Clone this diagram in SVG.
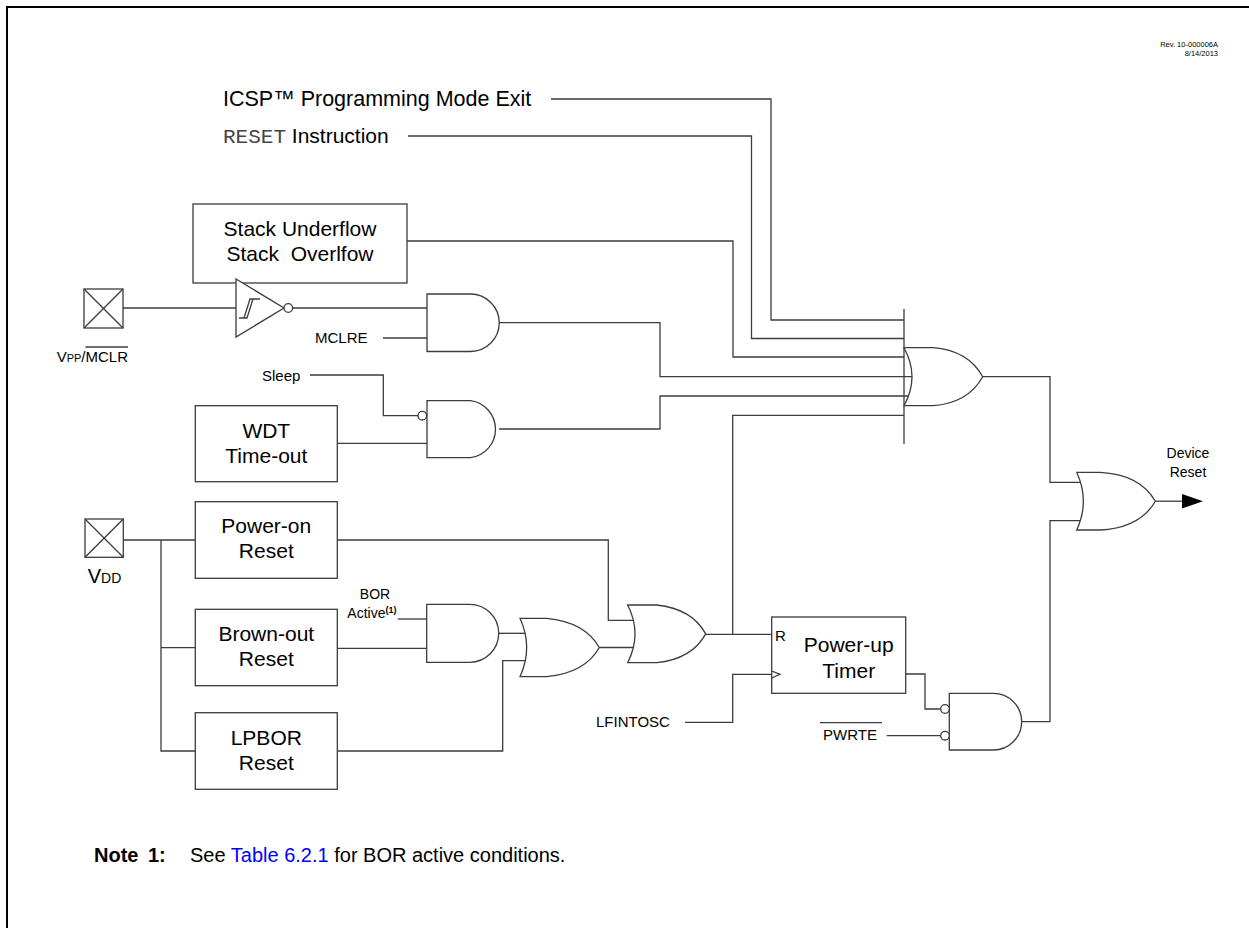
<svg xmlns="http://www.w3.org/2000/svg" width="1249" height="928" viewBox="0 0 1249 928">
<style>
.w{fill:none;stroke:#3c3c3c;stroke-width:1.3}
.g{fill:#fff;stroke:#3c3c3c;stroke-width:1.3}
.t{font-family:"Liberation Sans",Arial,sans-serif;fill:#000}
.b{font-size:21px;text-anchor:middle}
.s{font-size:15px}
.m{font-family:"Liberation Mono","Courier New",monospace;fill:#444}
</style>
<rect width="1249" height="928" fill="#fff"/>
<path d="M7,928 V7 H1249" fill="none" stroke="#000" stroke-width="2"/>
<g id="rev" class="t" font-size="7.5" text-anchor="end"><text x="1218" y="47">Rev. 10-000006A</text><text x="1218" y="56">8/14/2013</text></g>

<g id="connectors">
<path class="w" d="M551,99 H771 V320 H904"/>
<path class="w" d="M408,136 H751.5 V338.5 H904"/>
<path class="w" d="M407,241 H733 V357 H904"/>
<path class="w" d="M123,308 H236"/>
<path class="w" d="M292.6,308 H427"/>
<path class="w" d="M383,338 H427"/>
<path class="w" d="M499,322.7 H660 V376.7 H912"/>
<path class="w" d="M310,375 H383.3 V415.7 H418"/>
<path class="w" d="M337.3,443.3 H427"/>
<path class="w" d="M499,429 H660 V396 H908.4"/>
<path class="w" d="M732.7,634.3 V415.3 H904"/>
<path class="w" d="M982.7,376.7 H1050 V482.3 H1080.5"/>
<path class="w" d="M1021.7,721.7 H1050 V520.7 H1080.3"/>
<path class="w" d="M1155.3,501.2 H1184"/>
<path class="w" d="M123.3,540 H195.3 M161,540 V751 H195.3 M161,647.7 H195.3"/>
<path class="w" d="M337.3,540 H608.3 V620.3 H633.4"/>
<path class="w" d="M397.7,619 H426.7"/>
<path class="w" d="M337.3,648.3 H426.7"/>
<path class="w" d="M498.7,633.3 H525.1"/>
<path class="w" d="M337.3,751 H502.7 V660.7 H525.3"/>
<path class="w" d="M599.3,647.5 H633.4"/>
<path class="w" d="M705.7,634.3 H771.7"/>
<path class="w" d="M685,722.3 H732.7 V674.3 H771.7"/>
<path class="w" d="M905.7,674 H925 V709 H940.7"/>
<path class="w" d="M886.7,735.7 H940.7"/>
<polygon points="1182,494 1203,501.2 1182,508.4" fill="#000"/>
</g>

<g id="icsp" class="t"><text x="223" y="106" font-size="21.5">ICSP™ Programming Mode Exit</text></g>
<g id="reset-instr"><text x="223" y="143" font-size="21"><tspan class="m">RESET</tspan><tspan class="t" font-family="Liberation Sans,Arial,sans-serif"> Instruction</tspan></text></g>

<g id="stack">
<rect class="g" x="193" y="204" width="214" height="79"/>
<text class="t b" x="300" y="236">Stack Underflow</text>
<text class="t b" x="300" y="261" xml:space="preserve">Stack  Overlfow</text>
</g>

<g id="mclr-pin">
<rect class="g" x="84" y="289" width="39" height="39"/>
<path class="w" d="M84,289 L123,328 M123,289 L84,328"/>
<text class="t" x="128" y="362" font-size="15" text-anchor="end">V<tspan font-size="11">PP</tspan>/MCLR</text>
<path class="w" d="M85.5,347 H128"/>
</g>

<g id="schmitt">
<path class="g" d="M236,279 L284,308 L236,337 Z"/>
<circle class="g" cx="288.3" cy="308" r="4.3"/>
<path class="w" stroke-width="1" d="M239,318 H247 L253,299 M244,318 L250,299 H260"/>
</g>

<g id="and-mclr">
<path class="g" d="M427,294 H470.5 A28.75,28.75 0 0 1 470.5,351.5 H427 Z"/>
<text class="t s" x="315" y="343">MCLRE</text>
</g>

<g id="and-wdt">
<path class="g" d="M427,400.7 H470.5 A28.75,28.75 0 0 1 470.5,457.7 H427 Z"/>
<circle class="g" cx="422.3" cy="415.7" r="4.3"/>
<text class="t s" x="262" y="381">Sleep</text>
</g>

<g id="wdt">
<rect class="g" x="195.3" y="405.7" width="142" height="76"/>
<text class="t b" x="266.3" y="438">WDT</text>
<text class="t b" x="266.3" y="463">Time-out</text>
</g>

<g id="or-main">
<path class="w" d="M904,309 V444"/>
<path class="g" d="M904,347.7 Q920,376.7 904,405.7 H933 Q968,403 982.7,376.7 Q968,350.4 933,347.7 Z"/>
</g>

<g id="or-device">
<path class="g" d="M1076.7,472.3 Q1090,501.2 1076.7,530 H1100 Q1140,528 1155.3,501.2 Q1140,474.3 1100,472.3 Z"/>
<text class="t" x="1188" y="458" font-size="14" text-anchor="middle">Device</text>
<text class="t" x="1188" y="477" font-size="14" text-anchor="middle">Reset</text>
</g>

<g id="vdd-pin">
<rect class="g" x="85" y="519" width="38.3" height="38.3"/>
<path class="w" d="M85,519 L123.3,557.3 M123.3,519 L85,557.3"/>
<text class="t" x="104.5" y="583" font-size="20" text-anchor="middle">V<tspan font-size="14">DD</tspan></text>
</g>

<g id="por">
<rect class="g" x="195.3" y="501.7" width="142" height="76.6"/>
<text class="t b" x="266.3" y="533">Power-on</text>
<text class="t b" x="266.3" y="558">Reset</text>
</g>

<g id="bor">
<rect class="g" x="195.3" y="609.3" width="142" height="76.4"/>
<text class="t b" x="266.3" y="641">Brown-out</text>
<text class="t b" x="266.3" y="666">Reset</text>
</g>

<g id="lpbor">
<rect class="g" x="195.3" y="712.7" width="142" height="76.6"/>
<text class="t b" x="266.3" y="745">LPBOR</text>
<text class="t b" x="266.3" y="770">Reset</text>
</g>

<g id="and-bor">
<path class="g" d="M426.7,604.3 H469.7 A29,29 0 0 1 469.7,662.3 H426.7 Z"/>
<text class="t" x="375" y="599" font-size="14" text-anchor="middle">BOR</text>
<text class="t" x="347.3" y="617.7" font-size="14">Active<tspan font-size="9" font-weight="bold" dy="-5">(1)</tspan></text>
</g>

<g id="or-bor">
<path class="g" d="M520,618.3 Q533.4,647.5 520,676.7 H546.7 Q585,673 599.3,647.5 Q585,622 546.7,618.3 Z"/>
</g>

<g id="or-por">
<path class="g" d="M627.7,605 Q642.3,633.85 627.7,662.7 H656.7 Q692,659 705.7,633.85 Q692,608.7 656.7,605 Z"/>
</g>

<g id="pwrt">
<rect class="g" x="771.7" y="617" width="134" height="76.3"/>
<path class="w" d="M771.7,671 L780,674.3 L771.7,678"/>
<text class="t s" x="775" y="641">R</text>
<text class="t b" x="848.7" y="651.7">Power-up</text>
<text class="t b" x="848.7" y="677.7">Timer</text>
<text class="t s" x="596" y="727">LFINTOSC</text>
</g>

<g id="and-pwrt">
<path class="g" d="M949.3,693.3 H993.3 A28.35,28.35 0 0 1 993.3,750 H949.3 Z"/>
<circle class="g" cx="945" cy="709" r="4.3"/>
<circle class="g" cx="945" cy="735.7" r="4.3"/>
<text class="t s" x="823" y="740">PWRTE</text>
<path class="w" d="M820,722.7 H882"/>
</g>

<g id="note" class="t" font-size="20">
<text x="94" y="862" font-weight="bold">Note</text>
<text x="148" y="862" font-weight="bold">1:</text>
<text x="190" y="862">See <tspan fill="#0000ff">Table 6.2.1</tspan> for BOR active conditions.</text>
</g>
</svg>
